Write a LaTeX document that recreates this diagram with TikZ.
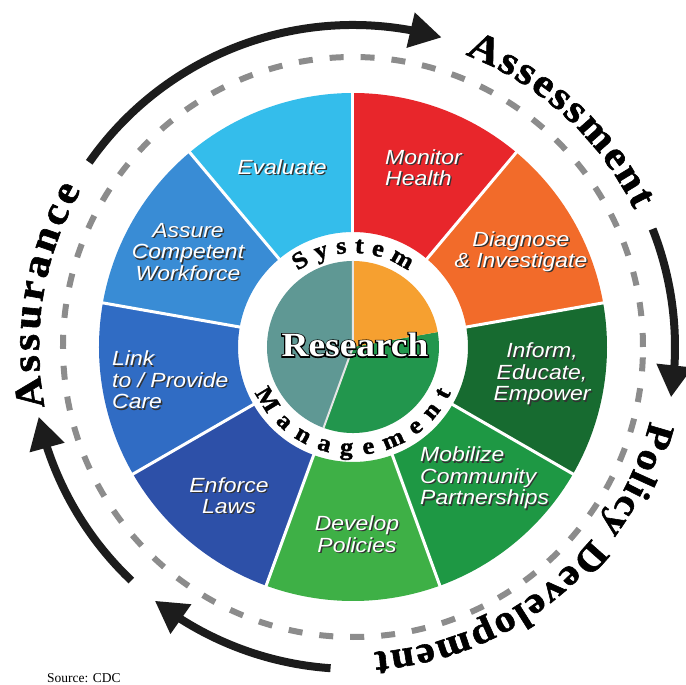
\documentclass[tikz,border=0pt]{standalone}
\usepackage{fontspec}
\setmainfont{Liberation Serif}
\newfontfamily\segfont{Liberation Sans}[FakeStretch=1.12]
\newfontfamily\arcfont{Liberation Serif}[FakeStretch=1.1, FakeBold=1.5]
\newfontfamily\resfont{Liberation Serif}[FakeStretch=1.1]
\newfontfamily\resoutline{Liberation Serif}[FakeStretch=1.1, FakeBold=7]
\usetikzlibrary{arrows.meta,bending,decorations.text}

\definecolor{cEval}{RGB}{52,189,235}
\definecolor{cMon}{RGB}{232,38,43}
\definecolor{cDiag}{RGB}{242,107,42}
\definecolor{cInf}{RGB}{23,107,48}
\definecolor{cMob}{RGB}{30,152,68}
\definecolor{cDev}{RGB}{62,176,70}
\definecolor{cEnf}{RGB}{45,80,168}
\definecolor{cLink}{RGB}{48,108,196}
\definecolor{cAss}{RGB}{57,140,213}
\definecolor{pTeal}{RGB}{95,152,148}
\definecolor{pOra}{RGB}{246,160,48}
\definecolor{pGrn}{RGB}{34,150,77}
\definecolor{dashgray}{RGB}{140,140,140}
\definecolor{arcblack}{RGB}{28,28,28}

\newcommand{\wheelseg}[3]{\fill[#3] (#1:254pt) arc[start angle=#1, end angle=#2, radius=254pt] -- (#2:115pt) arc[start angle=#2, end angle=#1, radius=115pt] -- cycle;}
\newcommand{\seglabel}[5]{%
  \node[seglab, anchor=#4, align=#3, text=black!80] (#1s) at ([shift={(1.4pt,-1.4pt)}]#2) {#5};
  \node[seglab, anchor=#4, align=#3] (#1) at (#2) {#5};}
\newcommand{\arctext}[4]{%
  \path[decorate, decoration={text along path, text align=fit to path,
    text={|\arcfont\bfseries\fontsize{#4}{#4}\selectfont|#1}}] #2 #3;}

\tikzset{
  seglab/.style={font=\segfont\itshape\fontsize{20.5pt}{21.5pt}\selectfont, text=white, inner sep=0pt},
  bigarrow/.style={arcblack, line width=8pt, -{Triangle[length=32pt,width=34pt]}},
  rfont/.style={font=\resfont\bfseries\fontsize{34pt}{34pt}\selectfont, inner sep=0pt},
  rofont/.style={font=\resoutline\bfseries\fontsize{34pt}{34pt}\selectfont, inner sep=0pt}
}

\begin{document}
\begin{tikzpicture}[x=1pt,y=1pt]
\useasboundingbox (-353,-338) rectangle (333,347);
\fill[white] (-353,-338) rectangle (333,347);

% outer wheel segments
\wheelseg{90}{130}{cEval}
\wheelseg{50}{90}{cMon}
\wheelseg{10}{50}{cDiag}
\wheelseg{-30}{10}{cInf}
\wheelseg{-70}{-30}{cMob}
\wheelseg{-110}{-70}{cDev}
\wheelseg{-150}{-110}{cEnf}
\wheelseg{170}{210}{cLink}
\wheelseg{130}{170}{cAss}
\foreach \a in {90,50,10,-30,-70,-110,-150,170,130}
  \draw[white, line width=3pt] (\a:112pt) -- (\a:257pt);

% inner pie
\fill[pTeal] (0,0) -- (90:86pt) arc[start angle=90, end angle=250, radius=86pt] -- cycle;
\fill[pGrn] (0,0) -- (250:86pt) arc[start angle=250, end angle=370, radius=86pt] -- cycle;
\fill[pOra] (0,0) -- (10:86pt) arc[start angle=10, end angle=90, radius=86pt] -- cycle;
\draw[white!80!gray, line width=2pt] (90:86pt) -- (0,0) -- (250:86pt);

% dashed circle
\draw[dashgray, line width=6pt, dash pattern=on 14pt off 17pt] (0,0) circle[radius=290pt];

% cycle arrows
\draw[bigarrow] (145:322pt) arc[start angle=145, end angle=74, radius=322pt];
\draw[bigarrow] (21.5:322pt) arc[start angle=21.5, end angle=-9, radius=322pt];
\draw[bigarrow] (-94:322pt) arc[start angle=-94, end angle=-128, radius=322pt];
\draw[bigarrow] (-133.5:322pt) arc[start angle=-133.5, end angle=-167.5, radius=322pt];

% arc labels
\arctext{Assessment}{(69:313pt)}{arc[start angle=69, end angle=26, radius=313pt]}{40pt}
\arctext{Policy Development}{(-14:306pt)}{arc[start angle=-14, end angle=-86, radius=306pt]}{38pt}
\arctext{Assurance}{(191:314pt)}{arc[start angle=191, end angle=150, radius=314pt]}{40pt}
\arctext{System}{(126:94pt)}{arc[start angle=126, end angle=54, radius=94pt]}{24pt}
\arctext{Management}{(-155:108pt)}{arc[start angle=-155, end angle=-25, radius=108pt]}{24pt}

% Research (black emboldened copy gives the outline)
\node[rofont, text=black] (researchline) at (2,2) {Research};
\node[rfont, text=white] (research) at (2,2) {Research};

% segment labels
\seglabel{eval}{-71,180}{center}{center}{Evaluate}
\seglabel{mon}{32,179.5}{left}{west}{Monitor\\Health}
\seglabel{diag}{168,95.5}{center}{center}{Diagnose\\\& Investigate}
\seglabel{inf}{189,-27}{center}{center}{Inform,\\Educate,\\Empower}
\seglabel{mob}{67,-131}{left}{west}{Mobilize\\Community\\Partnerships}
\seglabel{dev}{4,-187}{center}{center}{Develop\\Policies}
\seglabel{enf}{-124,-148.5}{center}{center}{Enforce\\Laws}
\seglabel{link}{-241,-33}{left}{west}{Link\\to / Provide\\Care}
\seglabel{ass}{-165,95}{center}{center}{Assure\\Competent\\Workforce}

\node[anchor=west, font=\fontsize{13.5pt}{14pt}\selectfont, inner sep=0pt] (src) at (-306,-331) {Source: CDC};
\end{tikzpicture}
\end{document}
